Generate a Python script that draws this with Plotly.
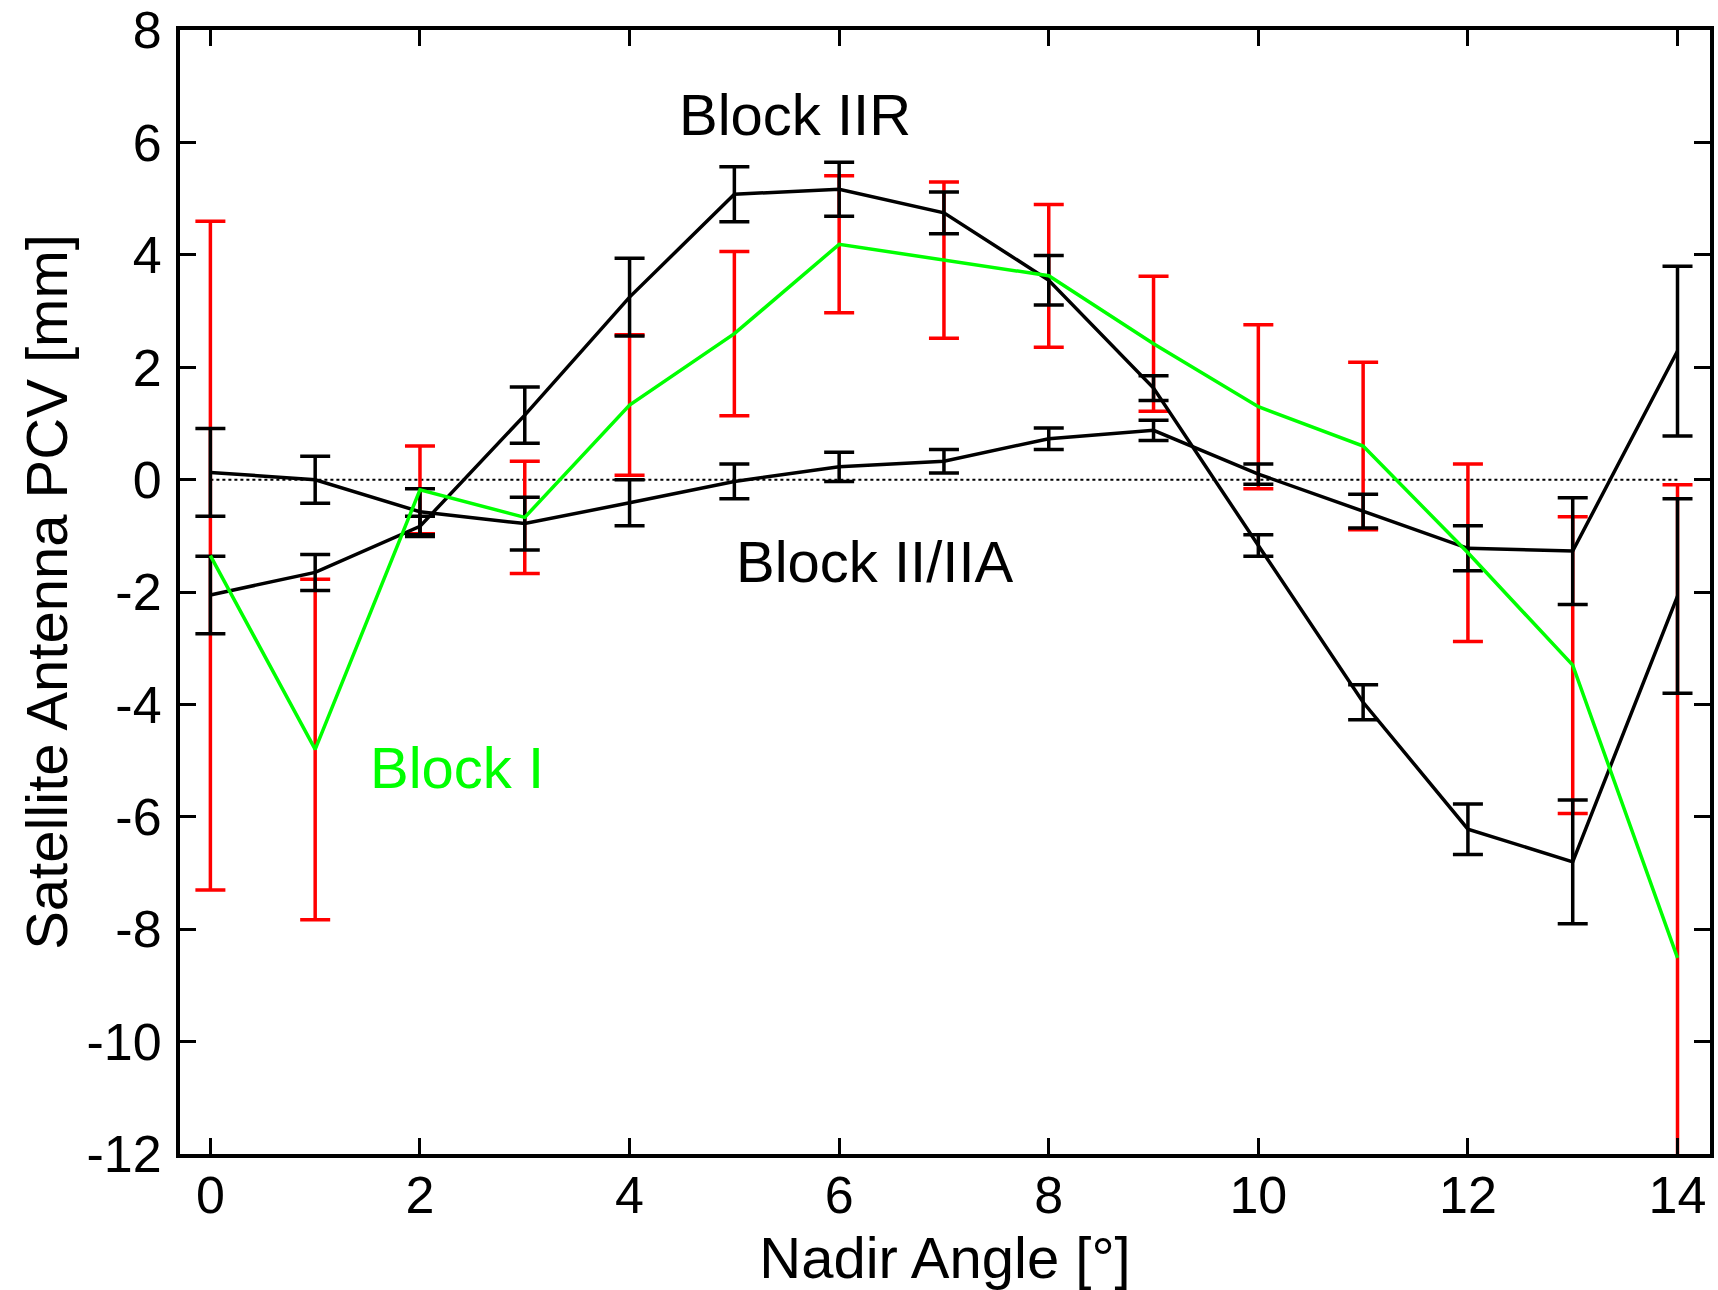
import plotly.graph_objects as go

nadir = [0, 1, 2, 3, 4, 5, 6, 7, 8, 9, 10, 11, 12, 13, 14]

block_ii_iia = [0.13, 0.0, -0.57, -0.78, -0.41, -0.03, 0.23, 0.33, 0.73, 0.88, 0.10, -0.56, -1.22, -1.27, 2.29]
block_ii_iia_err = [0.78, 0.42, 0.41, 0.47, 0.41, 0.31, 0.26, 0.21, 0.19, 0.18, 0.18, 0.30, 0.40, 0.95, 1.51]

block_iir = [-2.05, -1.65, -0.83, 1.15, 3.25, 5.08, 5.17, 4.75, 3.55, 1.63, -1.17, -3.96, -6.22, -6.80, -2.07]
block_iir_err = [0.69, 0.32, 0.18, 0.50, 0.69, 0.49, 0.48, 0.37, 0.44, 0.22, 0.19, 0.31, 0.45, 1.10, 1.73]

block_i = [-1.35, -4.80, -0.18, -0.67, 1.33, 2.60, 4.19, 3.91, 3.63, 2.42, 1.30, 0.60, -1.30, -3.30, -8.51]
block_i_err = [5.95, 3.03, 0.78, 1.00, 1.25, 1.46, 1.22, 1.39, 1.27, 1.20, 1.46, 1.49, 1.58, 2.64, 8.42]

zero_x = [0, 14]
zero_y = [0, 0]

x_ticks = [0, 2, 4, 6, 8, 10, 12, 14]
y_ticks = [8, 6, 4, 2, 0, -2, -4, -6, -8, -10, -12]

FONT = "Liberation Sans, Arial, Helvetica, sans-serif"

fig = go.Figure()

# zero reference line
fig.add_trace(go.Scatter(x=zero_x, y=zero_y, mode="lines",
                         line=dict(color="black", width=2, dash="dot"),
                         showlegend=False, hoverinfo="skip"))

# Block I error bars (red)
fig.add_trace(go.Scatter(x=nadir, y=block_i, mode="markers",
                         marker=dict(size=1, opacity=0),
                         error_y=dict(type="data", array=block_i_err, color="#ff0000",
                                      thickness=3.5, width=15),
                         showlegend=False, name="Block I"))

# Block II/IIA
fig.add_trace(go.Scatter(x=nadir, y=block_ii_iia, mode="lines",
                         line=dict(color="black", width=3.5),
                         error_y=dict(type="data", array=block_ii_iia_err, color="black",
                                      thickness=3.5, width=15),
                         showlegend=False, name="Block II/IIA"))

# Block IIR
fig.add_trace(go.Scatter(x=nadir, y=block_iir, mode="lines",
                         line=dict(color="black", width=3.5),
                         error_y=dict(type="data", array=block_iir_err, color="black",
                                      thickness=3.5, width=15),
                         showlegend=False, name="Block IIR"))

# Block I line (green)
fig.add_trace(go.Scatter(x=nadir, y=block_i, mode="lines",
                         line=dict(color="#00ff00", width=3.5),
                         showlegend=False, name="Block I"))

fig.add_annotation(x=5.58, y=6.5, text="Block IIR", showarrow=False,
                   font=dict(size=58, color="black", family=FONT))
fig.add_annotation(x=6.34, y=-1.45, text="Block II/IIA", showarrow=False,
                   font=dict(size=58, color="black", family=FONT))
fig.add_annotation(x=2.35, y=-5.12, text="Block I", showarrow=False,
                   font=dict(size=58, color="#00ff00", family=FONT))

axis_common = dict(
    showgrid=False, zeroline=False, automargin=False,
    showline=True, linecolor="black", linewidth=4, mirror="allticks",
    ticks="inside", ticklen=16, tickwidth=3, tickcolor="black",
    tickfont=dict(size=52, color="black", family=FONT),
)

fig.update_layout(
    width=1718, height=1290,
    margin=dict(l=180, r=8, t=30, b=136),
    paper_bgcolor="white", plot_bgcolor="white",
    font=dict(family=FONT, color="black"),
    xaxis=dict(range=[-0.29, 14.31], tickvals=x_ticks, ticktext=[str(v) for v in x_ticks],
               title=dict(text="Nadir Angle [°]", font=dict(size=58, family=FONT), standoff=16),
               ticklabelstandoff=-7, **axis_common),
    yaxis=dict(range=[-12, 8.004], tickvals=y_ticks, ticktext=[str(v) for v in y_ticks],
               title=dict(text="Satellite Antenna PCV [mm]", font=dict(size=58, family=FONT), standoff=1),
               ticklabelstandoff=4, **axis_common),
)

fig.write_html("out.html")
